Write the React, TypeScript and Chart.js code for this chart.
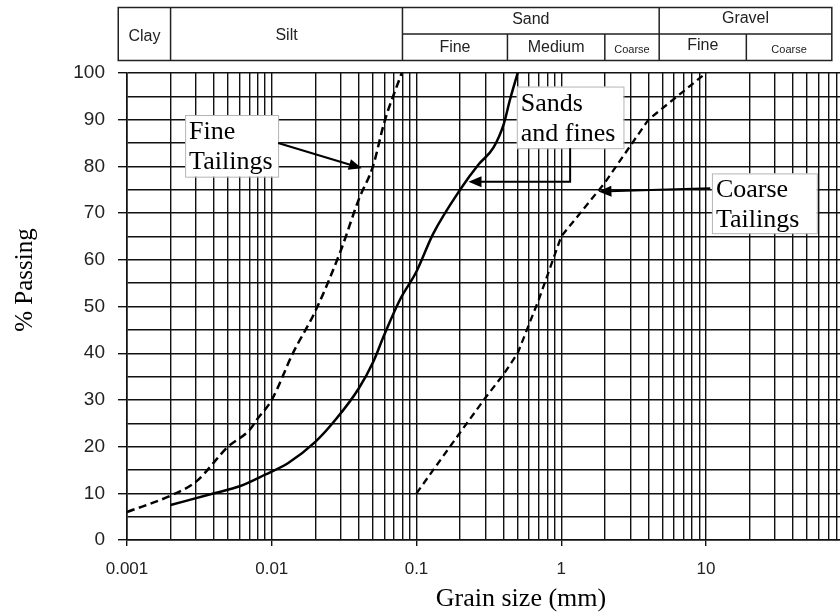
import React, { useEffect, useRef } from 'react';
import { Chart, registerables } from 'chart.js';

Chart.register(...registerables);

// ---- data ----
const fineTailingsSize = [0.001, 0.002, 0.003, 0.005, 0.007, 0.008, 0.01, 0.014, 0.02, 0.03, 0.04, 0.05, 0.06, 0.079];
const fineTailingsPassing = [6, 9.5, 12.5, 20, 23.5, 26, 30, 40, 49, 62, 73, 80, 89.5, 100];

const sandsFinesSize = [0.002, 0.004, 0.006, 0.009, 0.013, 0.02, 0.028, 0.04, 0.05, 0.06, 0.077, 0.1, 0.13, 0.2, 0.27, 0.34, 0.4, 0.44, 0.5];
const sandsFinesPassing = [7.5, 10, 11.5, 14, 16.5, 21, 26, 32.5, 38, 44, 51.5, 57.5, 65.5, 75, 80.5, 84, 89, 94, 100];

const coarseTailingsSize = [0.1, 0.2, 0.3, 0.4, 0.5, 0.7, 1, 2, 4, 10];
const coarseTailingsPassing = [10, 23, 30.5, 35.5, 40, 51.5, 65, 76.5, 90, 100];

const xDecades = [0.001, 0.01, 0.1, 1, 10];
const xTickLabels = ['0.001', '0.01', '0.1', '1', '10'];
const xMin = 0.001;
const xMax = 84.3;
const yTickStep = 5;
const yLabelStep = 10;

// soil classification table (boundaries in mm)
const tableBounds = [0.00087, 0.002, 0.08, 0.425, 2, 4.75, 19, 74];
const soilClasses = ['Clay', 'Silt', 'Sand', 'Gravel'];
const soilSubClasses = ['Fine', 'Medium', 'Coarse', 'Fine', 'Coarse'];

// annotation boxes and arrows in data coordinates
const annotationTexts = [['Fine', 'Tailings'], ['Sands', 'and fines'], ['Coarse', 'Tailings']];
const annotationBoxes = [
  [0.00252, 91.0, 0.01106, 77.8],
  [0.493, 97.1, 2.69, 83.9],
  [10.99, 78.5, 58.3, 65.7],
];
const annotationArrows = [
  [[0.01106, 85.0], [0.0419, 79.6]],
  [[1.152, 83.9], [1.152, 76.7], [0.2286, 76.7]],
  [[10.7, 75.3], [1.807, 74.6]],
];

const isDecade = (v: number) => Math.abs(Math.log10(v) - Math.round(Math.log10(v))) < 1e-6;

const toPoints = (xs: number[], ys: number[]) => xs.map((x, i) => ({ x, y: ys[i] }));

const decorPlugin = {
  id: 'decor',
  afterDatasetsDraw(chart: any) {
    const { ctx, scales } = chart;
    const xs = scales.x;
    const ys = scales.y;
    ctx.save();
    annotationBoxes.forEach((b, i) => {
      const l = xs.getPixelForValue(b[0]);
      const t = ys.getPixelForValue(b[1]);
      const r = xs.getPixelForValue(b[2]);
      const bt = ys.getPixelForValue(b[3]);
      ctx.fillStyle = '#ffffff';
      ctx.fillRect(l, t, r - l, bt - t);
      ctx.strokeStyle = '#b5b5b5';
      ctx.lineWidth = 1;
      ctx.strokeRect(l + 0.5, t + 0.5, r - l, bt - t);
      ctx.fillStyle = '#000';
      ctx.font = '26px "Liberation Serif", "Times New Roman", serif';
      ctx.textAlign = 'left';
      ctx.textBaseline = 'alphabetic';
      annotationTexts[i].forEach((line, j) => {
        ctx.fillText(line, l + 4, t + 24 + j * 30);
      });
    });
    annotationArrows.forEach((pts) => {
      const p = pts.map(([vx, vy]) => [xs.getPixelForValue(vx), ys.getPixelForValue(vy)]);
      ctx.strokeStyle = '#000';
      ctx.fillStyle = '#000';
      ctx.lineWidth = 2;
      const n = p.length;
      const [ex, ey] = p[n - 1];
      const [px, py] = p[n - 2];
      const ang = Math.atan2(ey - py, ex - px);
      const headLen = 13;
      const headW = 5.5;
      ctx.beginPath();
      ctx.moveTo(p[0][0], p[0][1]);
      for (let k = 1; k < n - 1; k++) ctx.lineTo(p[k][0], p[k][1]);
      ctx.lineTo(ex - Math.cos(ang) * headLen * 0.8, ey - Math.sin(ang) * headLen * 0.8);
      ctx.stroke();
      ctx.beginPath();
      ctx.moveTo(ex, ey);
      ctx.lineTo(ex - Math.cos(ang) * headLen - Math.sin(ang) * headW, ey - Math.sin(ang) * headLen + Math.cos(ang) * headW);
      ctx.lineTo(ex - Math.cos(ang) * headLen + Math.sin(ang) * headW, ey - Math.sin(ang) * headLen - Math.cos(ang) * headW);
      ctx.closePath();
      ctx.fill();
    });
    ctx.restore();
  },
  afterDraw(chart: any) {
    const { ctx, scales } = chart;
    const xs = scales.x;
    ctx.save();
    const px = tableBounds.map((v) => xs.getPixelForValue(v));
    const top = 7.5;
    const mid = 34;
    const bot = 60.5;
    ctx.strokeStyle = '#222';
    ctx.lineWidth = 1.5;
    ctx.strokeRect(px[0], top, px[7] - px[0], bot - top);
    ctx.beginPath();
    [1, 2, 5].forEach((i) => { ctx.moveTo(px[i], top); ctx.lineTo(px[i], bot); });
    [3, 4, 6].forEach((i) => { ctx.moveTo(px[i], mid); ctx.lineTo(px[i], bot); });
    ctx.moveTo(px[2], mid); ctx.lineTo(px[7], mid);
    ctx.stroke();
    ctx.fillStyle = '#222';
    ctx.textAlign = 'center';
    ctx.textBaseline = 'middle';
    ctx.font = '16px "Liberation Sans", Arial, sans-serif';
    ctx.fillText(soilClasses[0], (px[0] + px[1]) / 2, 37);
    ctx.fillText(soilClasses[1], (px[1] + px[2]) / 2, 36);
    ctx.fillText(soilClasses[2], (px[2] + px[5]) / 2, 20);
    ctx.fillText(soilClasses[3], (px[5] + px[7]) / 2, 19);
    const subCells = [[2, 3], [3, 4], [4, 5], [5, 6], [6, 7]];
    subCells.forEach(([a, b], i) => {
      const small = soilSubClasses[i] === 'Coarse';
      ctx.font = small ? '11px "Liberation Sans", Arial, sans-serif' : '16px "Liberation Sans", Arial, sans-serif';
      ctx.fillText(soilSubClasses[i], (px[a] + px[b]) / 2, small ? 49.5 : (i === 3 ? 45.5 : 47.5));
    });
    ctx.fillStyle = '#000';
    ctx.font = '25px "Liberation Serif", "Times New Roman", serif';
    ctx.save();
    ctx.translate(25, 280);
    ctx.rotate(-Math.PI / 2);
    ctx.fillText('% Passing', 0, 0);
    ctx.restore();
    ctx.font = '26px "Liberation Serif", "Times New Roman", serif';
    ctx.fillText('Grain size (mm)', 521, 599);
    ctx.restore();
  },
};

export default function App() {
  const canvasRef = useRef<HTMLCanvasElement | null>(null);

  useEffect(() => {
    document.body.style.margin = '0';
    const canvas = canvasRef.current;
    if (!canvas) return;
    const gridColor = '#111';
    const chart = new Chart(canvas, {
      type: 'line',
      data: {
        datasets: [
          {
            label: 'Fine Tailings',
            data: toPoints(fineTailingsSize, fineTailingsPassing),
            borderColor: '#000',
            borderWidth: 2.5,
            borderDash: [8, 4.5],
            pointRadius: 0,
            cubicInterpolationMode: 'monotone',
            fill: false,
          },
          {
            label: 'Sands and fines',
            data: toPoints(sandsFinesSize, sandsFinesPassing),
            borderColor: '#000',
            borderWidth: 2.5,
            pointRadius: 0,
            cubicInterpolationMode: 'monotone',
            fill: false,
          },
          {
            label: 'Coarse Tailings',
            data: toPoints(coarseTailingsSize, coarseTailingsPassing),
            borderColor: '#000',
            borderWidth: 2.3,
            borderDash: [7, 4.5],
            pointRadius: 0,
            tension: 0,
            fill: false,
          },
        ],
      },
      options: {
        animation: false,
        responsive: false,
        devicePixelRatio: 1,
        layout: { padding: { top: 73, left: 0, right: 0, bottom: 0 } },
        plugins: { legend: { display: false }, tooltip: { enabled: false } },
        scales: {
          x: {
            type: 'logarithmic',
            min: xMin,
            max: xMax,
            afterBuildTicks: (scale: any) => {
              const vals: number[] = [];
              xDecades.forEach((d) => {
                for (let m = 1; m <= 9; m++) {
                  const v = +(d * m).toPrecision(6);
                  if (v <= xMax) vals.push(v);
                }
              });
              scale.ticks = vals.map((v) => ({ value: v, major: isDecade(v) }));
            },
            afterFit: (scale: any) => {
              scale.height = 72;
              scale.paddingRight = 0;
              scale.paddingLeft = 0;
            },
            ticks: {
              autoSkip: false,
              maxRotation: 0,
              padding: 13,
              color: '#222',
              font: { family: '"Liberation Sans", Arial, sans-serif', size: 17 },
              callback: (value: any) => {
                const v = Number(value);
                const idx = xDecades.findIndex((d) => Math.abs(d - v) / d < 1e-6);
                return idx >= 0 ? xTickLabels[idx] : '';
              },
            },
            grid: {
              color: gridColor,
              lineWidth: 1.4,
              drawTicks: true,
              tickLength: 6,
              tickColor: (c: any) => (c.tick && isDecade(c.tick.value) ? gridColor : 'rgba(0,0,0,0)'),
            },
            border: { display: true, color: gridColor, width: 1.6 },
          },
          y: {
            type: 'linear',
            min: 0,
            max: 100,
            afterFit: (scale: any) => {
              scale.width = 127;
              scale.paddingTop = 0;
              scale.paddingBottom = 0;
            },
            ticks: {
              stepSize: yTickStep,
              autoSkip: false,
              padding: 13,
              color: '#222',
              font: { family: '"Liberation Sans", Arial, sans-serif', size: 19 },
              callback: (value: any) => (Number(value) % yLabelStep === 0 ? String(value) : ''),
            },
            grid: {
              color: gridColor,
              lineWidth: 1.4,
              drawTicks: true,
              tickLength: 9,
              tickColor: (c: any) => (c.tick && c.tick.value % yLabelStep === 0 ? gridColor : 'rgba(0,0,0,0)'),
            },
            border: { display: true, color: gridColor, width: 1.6 },
          },
        },
      },
      plugins: [decorPlugin],
    } as any);
    return () => chart.destroy();
  }, []);

  return (
    <div style={{ width: 840, height: 612 }}>
      <canvas ref={canvasRef} width={840} height={612} style={{ display: 'block' }} />
    </div>
  );
}
